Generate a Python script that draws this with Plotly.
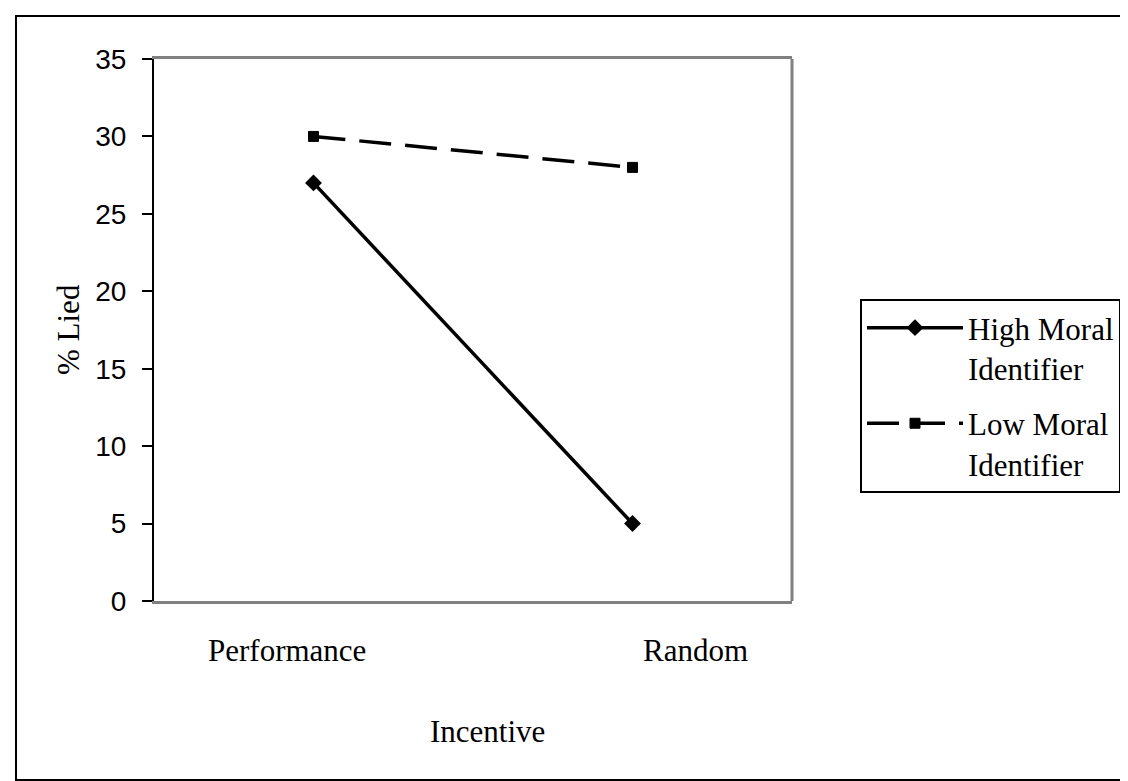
import plotly.graph_objects as go

categories = ["Performance", "Random"]
high_moral = [27, 5]
low_moral = [30, 28]
series_names = ["High Moral<br>Identifier", "Low Moral<br>Identifier"]
y_ticks = [0, 5, 10, 15, 20, 25, 30, 35]

W, H = 1128, 781
L, R, T, B = 146, 784, 51, 593
pw, ph = R - L, B - T

def px_x(x):
    return (x - L) / pw

def px_y(y):
    return (B - y) / ph

fig = go.Figure()
fig.add_trace(go.Scatter(
    x=categories, y=high_moral, name=series_names[0], mode="lines+markers",
    legendgroup="a",
    line=dict(color="black", width=3.5),
    marker=dict(symbol="diamond", size=13, color="black"),
))
fig.add_trace(go.Scatter(
    x=categories, y=low_moral, name=series_names[1], mode="lines+markers",
    legendgroup="b",
    line=dict(color="black", width=3.5, dash="32px,14px"),
    marker=dict(symbol="square", size=10, color="black",
                line=dict(color="black", width=1)),
))

serif = "Liberation Serif, Times New Roman, serif"
sans = "Liberation Sans, Arial, sans-serif"

cat_shift = [-27, 63]

annotations = [
    dict(text="Incentive", xref="paper", yref="paper", x=0.5, y=px_y(723),
         xshift=14,
         showarrow=False, xanchor="center", yanchor="middle",
         font=dict(family=serif, size=31, color="black")),
    dict(text="% Lied", xref="paper", yref="paper", x=px_x(60), y=0.5,
         showarrow=False, xanchor="center", yanchor="middle", textangle=-90,
         font=dict(family=serif, size=31, color="black")),
]
for c, s in zip(categories, cat_shift):
    annotations.append(dict(
        text=c, xref="x", yref="paper", x=c, y=px_y(642), xshift=s,
        showarrow=False, xanchor="center", yanchor="middle",
        font=dict(family=serif, size=31, color="black")))

fig.update_layout(
    width=W, height=H,
    margin=dict(l=L, r=W - R, t=T, b=H - B),
    paper_bgcolor="white", plot_bgcolor="white",
    showlegend=True,
    legend=dict(
        x=px_x(852), y=px_y(291), xanchor="left", yanchor="top",
        bordercolor="black", borderwidth=2, bgcolor="white",
        font=dict(family=serif, size=31, color="black"),
        itemwidth=96, traceorder="grouped", tracegroupgap=12,
        valign="top",
    ),
    xaxis=dict(
        type="category", range=[-0.5, 1.5],
        showline=True, linecolor="#808080", linewidth=3,
        showgrid=False, zeroline=False,
        showticklabels=False, ticks="",
        mirror=True,
    ),
    yaxis=dict(
        range=[0, 35], tickvals=y_ticks,
        showline=True, linecolor="black", linewidth=2,
        showgrid=False, zeroline=False,
        ticks="outside", ticklen=10, tickcolor="black", tickwidth=2,
        tickfont=dict(family=sans, size=28, color="black"),
        ticklabelstandoff=10,
    ),
    shapes=[
        dict(type="line", xref="paper", yref="paper", x0=1, x1=1, y0=0, y1=1,
             line=dict(color="#808080", width=3), layer="below"),
        dict(type="rect", xref="paper", yref="paper",
             x0=px_x(8), x1=px_x(1120), y0=px_y(772), y1=px_y(8),
             line=dict(color="black", width=2)),
    ],
    annotations=annotations,
)

fig.write_html("out.html")
